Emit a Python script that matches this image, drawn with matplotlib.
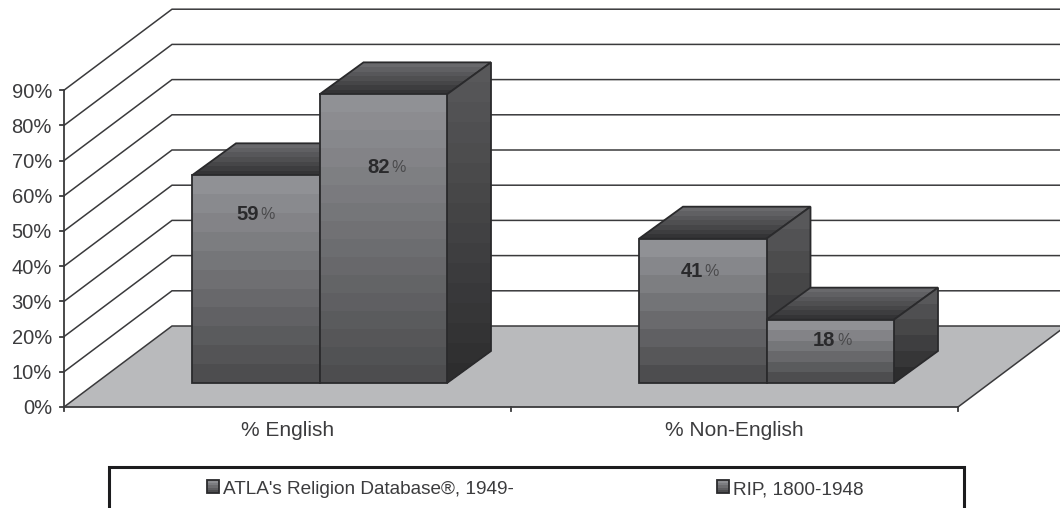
# -*- coding: utf-8 -*-
import numpy as np
import matplotlib
matplotlib.use('Agg')
import matplotlib.pyplot as plt
from matplotlib.patches import Polygon, Rectangle

plt.rcParams['font.family'] = ['Liberation Sans', 'DejaVu Sans']

#data
categories = ['% English', '% Non-English']
series_names = ["ATLA's Religion Database\u00ae, 1949-", 'RIP, 1800-1948']
atla = [59, 41]
rip = [82, 18]
yticks = np.arange(0, 100, 10)

#scales, one category = 447 px wide, one percent = 3.52 px high
XPX = 447.0
YPX = 3.52
X0 = 64.0
Y0 = 407.0
WALLX = 108 / XPX
WALLY = 81 / YPX
BARW = 127.5 / XPX
BARDX = 44 / XPX
BARDY = 32 / YPX
BARFLOOR = 24 / YPX
BARSTART = [128 / XPX, 575 / XPX]

TXT = '#3c3c3e'
EDGE = '#2a2a2c'
GRID = '#3a3a3c'

#label placement below bar top (px) and shift of the digit/percent join (px)
label_drop = [[39, 73], [33, 21]]
label_shift = [[3, 6.5], [0, 5]]

fig = plt.figure(figsize=(10.6, 5.08), dpi=100)
ax = fig.add_axes([0, 0, 1, 1])
ax.set_xlim(-X0 / XPX, (1060 - X0) / XPX)
ax.set_ylim(-(508 - Y0) / YPX, Y0 / YPX)
ax.axis('off')


def shade(top, bottom, frac):
    top = np.array(matplotlib.colors.to_rgb(top))
    bottom = np.array(matplotlib.colors.to_rgb(bottom))
    return tuple(top + (bottom - top) * frac)


def bands(pts, top, bottom, n, z):
    #flat horizontal strips clipped to the face, each painted down to the
    #lower edge so no seams show between them
    outline = Polygon(pts, closed=True, fc='none', ec=EDGE, lw=1.3, zorder=z + 0.05,
                      joinstyle='miter')
    ax.add_patch(outline)
    xs = [p[0] for p in pts]
    ys = [p[1] for p in pts]
    ymin, ymax = min(ys), max(ys)
    for i in range(n):
        yt = ymax - (ymax - ymin) * i / n
        strip = Rectangle((min(xs), ymin), max(xs) - min(xs), yt - ymin, lw=0,
                          fc=shade(top, bottom, i / (n - 1)), zorder=z + i * 1e-4)
        ax.add_patch(strip)
        strip.set_clip_path(outline)


def bar3d(x, val, z):
    y = BARFLOOR
    top = y + val
    x1 = x + BARW
    dx, dy = BARDX, BARDY
    nb = max(6, int(val / 5))
    bands([(x + dx, top + dy), (x1 + dx, top + dy), (x1, top), (x, top)],
          '#69696c', '#343436', 7, z)
    bands([(x1, top), (x1 + dx, top + dy), (x1 + dx, y + dy), (x1, y)],
          '#58585a', '#2d2d2e', nb, z + 0.1)
    bands([(x, top), (x1, top), (x1, y), (x, y)],
          '#909195', '#4d4d4f', nb, z + 0.2)


#floor
floor = [(0, 0), (2, 0), (2 + WALLX, WALLY), (WALLX, WALLY)]
ax.add_patch(Polygon(floor, closed=True, fc='#b9babc', ec='none', zorder=1))
ax.plot([2, 2 + WALLX], [0, WALLY], color=GRID, lw=1.1, zorder=2)

#walls and gridlines
for t in yticks:
    ax.plot([0, WALLX, 2 + WALLX], [t, t + WALLY, t + WALLY],
            color=GRID, lw=1.1, zorder=2, solid_joinstyle='miter')

#axes
ax.plot([0, 0], [0, yticks[-1]], color=GRID, lw=1.3, zorder=3)
ax.plot([0, 2], [0, 0], color=GRID, lw=1.3, zorder=8)
for t in yticks:
    ax.plot([-4 / XPX, 0], [t, t], color=GRID, lw=1.3, zorder=3)
    ax.text(-12 / XPX, t - 2 / YPX, '%d%%' % t, ha='right', va='center',
            fontsize=14.5, color=TXT)
for c in range(3):
    ax.plot([c, c], [0, -4 / YPX], color=GRID, lw=1.3, zorder=3)
for c, name in enumerate(categories):
    ax.text(c + 0.5, -24 / YPX, name, ha='center', va='center', fontsize=15,
            color=TXT)

#bars
for c in range(2):
    x = BARSTART[c]
    for s, vals in enumerate([atla, rip]):
        xb = x + s * BARW
        bar3d(xb, vals[c], 10 + s)
        xm = xb + BARW / 2 + label_shift[c][s] / XPX
        ym = BARFLOOR + vals[c] - label_drop[c][s] / YPX
        ax.text(xm, ym, '%d' % vals[c], ha='right', va='center', fontsize=14.5,
                fontweight='bold', color='#2a2a2c', zorder=20)
        ax.text(xm + 2 / XPX, ym, '%', ha='left', va='center', fontsize=11.5,
                color='#4a4a4c', zorder=20)

#legend box runs past the lower edge
leg_x = (109 - X0) / XPX
leg_w = 855 / XPX
leg_top = (Y0 - 467) / YPX
ax.add_patch(Rectangle((leg_x, leg_top - 60 / YPX), leg_w, 60 / YPX, fc='white',
                       ec='#1c1c1e', lw=2.2, zorder=5))
for name, mx in zip(series_names, [207, 717]):
    mx0 = (mx - X0) / XPX
    my1 = (Y0 - 480) / YPX
    my0 = (Y0 - 492.5) / YPX
    mw = 12 / XPX
    bands([(mx0, my1), (mx0 + mw, my1), (mx0 + mw, my0), (mx0, my0)],
          '#8c8d91', '#4d4d4f', 5, 6)
    ax.text(mx0 + 16 / XPX, (Y0 - 488) / YPX - 2 / YPX, name, ha='left', va='center',
            fontsize=13.7, color=TXT, zorder=7)

fig.savefig('out.png', dpi=100, facecolor='white')
